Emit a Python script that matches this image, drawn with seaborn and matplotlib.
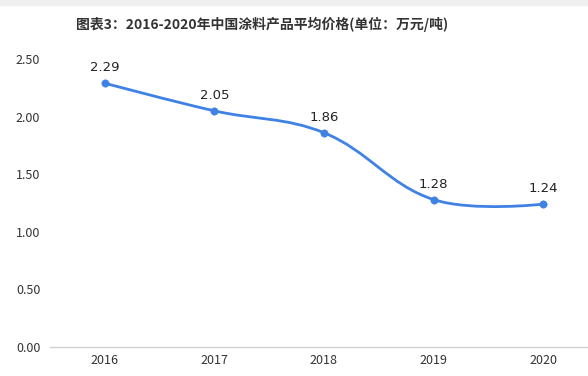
import numpy as np
import pandas as pd
import matplotlib
matplotlib.use("Agg")
import matplotlib.pyplot as plt
from matplotlib.path import Path
from matplotlib.patches import PathPatch, Rectangle
import seaborn as sns

anos = ['2016', '2017', '2018', '2019', '2020']
precos = [2.29, 2.05, 1.86, 1.28, 1.24]
titulo = '图表3：2016-2020年中国涂料产品平均价格(单位：万元/吨)'

df = pd.DataFrame({'pos': np.arange(len(anos)), 'ano': anos, 'preco': precos})

sns.set_theme(style="white")
plt.rcParams['font.family'] = ['Noto Sans CJK SC', 'DejaVu Sans']

AZUL = '#3f82e4'
SUAVE = 0.38

fig = plt.figure(figsize=(5.88, 3.76), dpi=100)
# faixa cinza no topo
fig.patches.append(Rectangle((0, 1 - 5 / 376), 1, 5 / 376, transform=fig.transFigure,
                             color='#f0f0f0', zorder=0))
ax = fig.add_axes([50 / 588, 29 / 376, 538 / 588, 288 / 376])

ax.set_xlim(-0.5, 4.41)
ax.set_ylim(0, 2.5)

# curva suavizada (bezier, estilo echarts)
pts = ax.transData.transform(np.column_stack([df['pos'], df['preco']]))
n = len(pts)
cps = [pts[0]]
for i in range(1, n - 1):
    v = pts[i + 1] - pts[i - 1]
    d0 = np.linalg.norm(pts[i] - pts[i - 1])
    d1 = np.linalg.norm(pts[i + 1] - pts[i])
    s = d0 + d1
    cps.append(pts[i] - v * SUAVE * d0 / s)
    cps.append(pts[i] + v * SUAVE * d1 / s)
cps.append(pts[-1])
verts = [pts[0]]
codes = [Path.MOVETO]
for i in range(n - 1):
    verts += [cps[2 * i], cps[2 * i + 1], pts[i + 1]]
    codes += [Path.CURVE4] * 3
verts = ax.transData.inverted().transform(np.array(verts))
ax.add_patch(PathPatch(Path(verts, codes), facecolor='none', edgecolor=AZUL, lw=2.0, zorder=2))

sns.scatterplot(data=df, x='pos', y='preco', color=AZUL, s=28, edgecolor=AZUL, zorder=3, ax=ax)

for x, y in zip(df['pos'], df['preco']):
    ax.annotate(f'{y:.2f}', (x, y), xytext=(0, 6.5), textcoords='offset points',
                ha='center', va='bottom', fontsize=9.5, color='#222222', family='DejaVu Sans')

ax.set_xticks(df['pos'])
ax.set_xticklabels(anos)
ax.set_yticks([0, 0.5, 1.0, 1.5, 2.0, 2.5])
ax.set_yticklabels([f'{t:.2f}' for t in [0, 0.5, 1.0, 1.5, 2.0, 2.5]])
ax.tick_params(axis='both', length=0, labelsize=9, colors='#333333')
ax.tick_params(axis='y', pad=7)
ax.tick_params(axis='x', pad=5)
for sp in ['top', 'right', 'left']:
    ax.spines[sp].set_visible(False)
ax.spines['bottom'].set_color('#d0d0d0')
ax.spines['bottom'].set_linewidth(1.0)
ax.set_xlabel('')
ax.set_ylabel('')
ax.grid(False)

fig.text(262 / 588, 1 - 24 / 376, titulo, ha='center', va='center', fontsize=10,
         fontweight='bold', color='#333333')

fig.savefig('out.png', dpi=100)
